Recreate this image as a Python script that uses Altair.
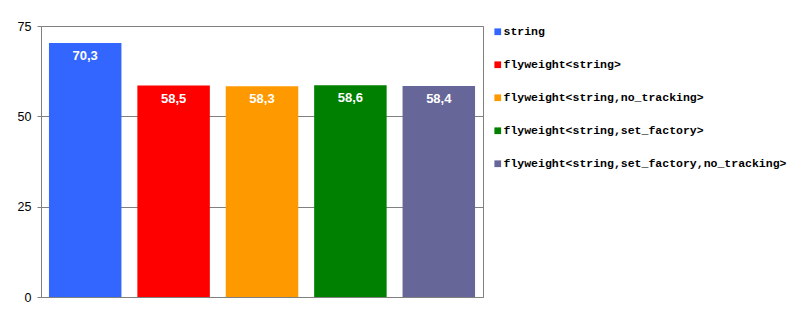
import altair as alt
import pandas as pd

categories = [
    "string",
    "flyweight<string>",
    "flyweight<string,no_tracking>",
    "flyweight<string,set_factory>",
    "flyweight<string,set_factory,no_tracking>",
]
values = [70.3, 58.5, 58.3, 58.6, 58.4]
colors = ["#3366FF", "#FF0000", "#FF9900", "#008000", "#666699"]
y_ticks = [0, 25, 50, 75]

df = pd.DataFrame({"cat": categories, "value": values})

x_enc = alt.X("cat:N", sort=categories, axis=None,
              scale=alt.Scale(paddingInner=0.18, paddingOuter=0.09))
y_enc = alt.Y("value:Q", scale=alt.Scale(domain=[0, 75], nice=False),
              axis=alt.Axis(values=y_ticks, title=None, grid=True,
                            gridColor="#808080", gridOpacity=1, gridWidth=1,
                            domainColor="#808080", tickColor="#808080",
                            tickSize=4, labelPadding=6, labelFontSize=12.5,
                            labelFont="Liberation Sans", labelColor="#000000"))

bars = alt.Chart(df).mark_bar().encode(
    x=x_enc,
    y=y_enc,
    color=alt.Color("cat:N", sort=categories,
                    scale=alt.Scale(domain=categories, range=colors),
                    legend=alt.Legend(title=None, orient="right", offset=9,
                                      padding=0, symbolType="square",
                                      symbolSize=45, symbolStrokeWidth=0,
                                      labelFont="Liberation Mono",
                                      labelFontWeight="bold",
                                      labelFontSize=11.5, labelColor="#000000",
                                      rowPadding=20, labelLimit=400,
                                      labelOffset=0)),
)

labels = alt.Chart(df).transform_calculate(
    lbl="replace(format(datum.value, '.1f'), '.', ',')"
).mark_text(color="white", fontWeight="bold", font="Liberation Sans",
            fontSize=13, baseline="middle", dy=13).encode(
    x=alt.X("cat:N", sort=categories),
    y=alt.Y("value:Q"),
    text="lbl:N",
)

chart = alt.layer(bars, labels).properties(
    width=442, height=271,
    autosize=alt.AutoSizeParams(type="none"),
    padding={"left": 41, "top": 26, "right": 315, "bottom": 26},
    background="white",
).configure_view(stroke="#808080", strokeWidth=1)

chart.save("out.html", embed_options={"renderer": "svg", "actions": False})
